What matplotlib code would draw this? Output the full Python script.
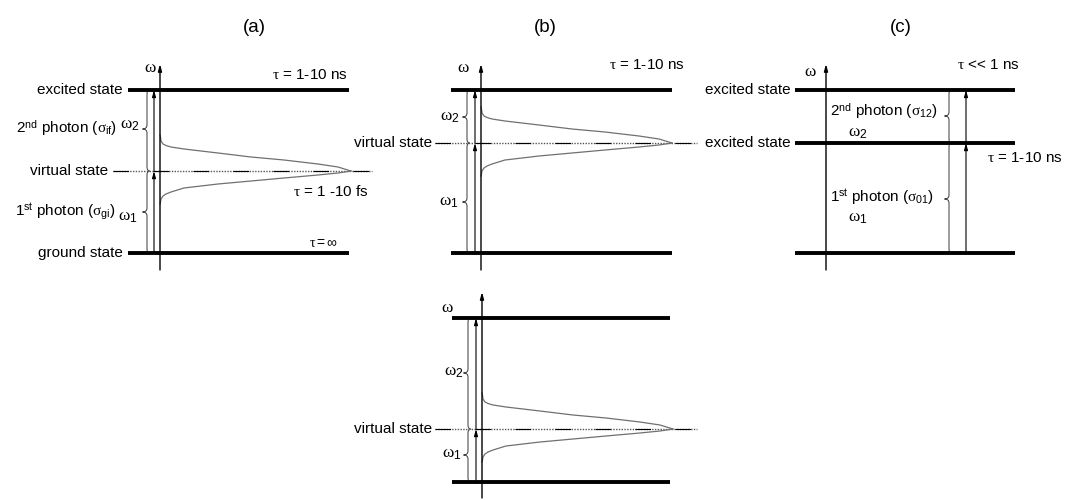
import matplotlib.pyplot as plt
from matplotlib.path import Path
from matplotlib.patches import PathPatch

plt.rcParams['font.family'] = 'Liberation Sans'
plt.rcParams['mathtext.fontset'] = 'custom'
plt.rcParams['mathtext.rm'] = 'Liberation Sans'
plt.rcParams['mathtext.it'] = 'Liberation Serif'
plt.rcParams['mathtext.sf'] = 'Liberation Sans'

# panel titles
titles = ['(a)', '(b)', '(c)']
title_x = [254, 545, 901]

# level heights (sketch pixel units, y down): top, middle, bottom
levels_a = [90, 171, 253]
levels_b = [90, 143, 253]
levels_b2 = [318, 429, 482]
levels_c = [90, 143, 253]

# line shape of the virtual state: offset from the axis vs. distance from the level
prof_x = [0, 0.5, 1, 3, 6, 11, 24, 58, 91, 124, 158, 178, 191]
prof_up = [36, 34, 30, 27, 25.5, 24, 22, 18, 14, 11, 7, 4, 0]
prof_dn = [33, 31, 28, 25, 23, 21, 17, 13, 10, 7, 4, 2, 0]

fig = plt.figure(figsize=(10.67, 5), dpi=100)
ax = fig.add_axes([0, 0, 1, 1])
ax.set_xlim(0, 1067)
ax.set_ylim(500, 0)
ax.axis('off')

FS = 11
FW = 12.5   # omega labels


def level(x0, x1, y):
    ax.plot([x0, x1], [y, y], color='black', lw=2.8, solid_capstyle='butt')


def arrow(x, y_from, y_to, lw=0.8):
    ax.annotate('', xy=(x, y_to), xytext=(x, y_from),
                arrowprops=dict(arrowstyle='-|>,head_length=0.4,head_width=0.11',
                                lw=lw, color='black', shrinkA=0, shrinkB=0,
                                mutation_scale=10))


def brace(x, y0, y1, ym, w=4.5, h=4):
    verts = [(x + w * 0.6, y0), (x, y0), (x, y0 + h),
             (x, ym - h), (x, ym), (x - w, ym),
             (x, ym), (x, ym + h),
             (x, y1 - h), (x, y1), (x + w * 0.6, y1)]
    codes = [Path.MOVETO, Path.CURVE3, Path.CURVE3,
             Path.LINETO, Path.CURVE3, Path.CURVE3,
             Path.CURVE3, Path.CURVE3,
             Path.LINETO, Path.CURVE3, Path.CURVE3]
    ax.add_patch(PathPatch(Path(verts, codes), fill=False, lw=0.75,
                           edgecolor='#444444'))


def virtual_line(x0, x1, y):
    ax.plot([x0, x1], [y, y], color='#555555', lw=1.0, ls=(0, (1, 1)))
    ax.plot([x0, x1], [y, y], color='black', lw=0.8, ls=(0, (14, 22)))


def lineshape(xa, y):
    ax.plot([xa + p for p in prof_x], [y - d for d in prof_up],
            color='#707070', lw=0.9)
    ax.plot([xa + p for p in prof_x], [y + d for d in prof_dn],
            color='#707070', lw=0.9)


def omega_axis(x, y_top, y_bot, lx, ly):
    arrow(x, y_bot, y_top, lw=1.0)
    ax.text(lx, ly, r'$\omega$', fontsize=FW, ha='center', va='center')


for t, tx in zip(titles, title_x):
    ax.text(tx, 28, t, fontsize=13.5, ha='center', va='center')

# (a) two-photon absorption via a virtual state
top, mid, bot = levels_a
level(128, 349, top)
level(128, 349, bot)
virtual_line(113, 372, mid)
lineshape(160, mid)
omega_axis(160, 64, 270, 150, 68)
arrow(154, bot, mid)
arrow(154, mid, top)
brace(147, top, mid, 129)
brace(147, mid, bot, 212)
ax.text(123, top, 'excited state', fontsize=FS, ha='right', va='center')
ax.text(123, bot, 'ground state', fontsize=FS, ha='right', va='center')
ax.text(108, mid, 'virtual state', fontsize=FS, ha='right', va='center')
ax.text(117, 129, r'2$^{\rm nd}$ photon ($\sigma_{\rm if}$)', fontsize=FS,
        ha='right', va='center')
ax.text(120, 125, r'$\omega_{\mathit{2}}$', fontsize=FW, ha='left', va='center')
ax.text(115, 212, r'1$^{\rm st}$ photon ($\sigma_{\rm gi}$)', fontsize=FS,
        ha='right', va='center')
ax.text(118, 217, r'$\omega_{\mathit{1}}$', fontsize=FW, ha='left', va='center')
ax.text(348, 75, r'$\tau$ = 1-10 ns', fontsize=FS, ha='right', va='center')
ax.text(369, 192, r'$\tau$ = 1 -10 fs', fontsize=FS, ha='right', va='center')
ax.text(338, 243, r'$\tau = \infty$', fontsize=FS - 1, ha='right', va='center')

# (b) non-degenerate case, top
top, mid, bot = levels_b
level(451, 672, top)
level(451, 672, bot)
virtual_line(435, 697, mid)
lineshape(481, mid)
omega_axis(481, 64, 270, 463, 68)
arrow(475, bot, mid)
arrow(475, mid, top)
brace(467, top, mid, 117)
brace(467, mid, bot, 202)
ax.text(432, mid, 'virtual state', fontsize=FS, ha='right', va='center')
ax.text(460, 117, r'$\omega_{\mathit{2}}$', fontsize=FW, ha='right', va='center')
ax.text(459, 202, r'$\omega_{\mathit{1}}$', fontsize=FW, ha='right', va='center')
ax.text(685, 65, r'$\tau$ = 1-10 ns', fontsize=FS, ha='right', va='center')

# (b) non-degenerate case, bottom
top, mid, bot = levels_b2
level(452, 670, top)
level(452, 670, bot)
virtual_line(435, 697, mid)
lineshape(482, mid)
omega_axis(482, 292, 498, 447, 308)
arrow(476, bot, mid)
arrow(476, mid, top)
brace(468, top, mid, 373)
brace(468, mid, bot, 455)
ax.text(432, mid, 'virtual state', fontsize=FS, ha='right', va='center')
ax.text(464, 373, r'$\omega_{\mathit{2}}$', fontsize=FW, ha='right', va='center')
ax.text(462, 455, r'$\omega_{\mathit{1}}$', fontsize=FW, ha='right', va='center')

# (c) sequential absorption through a real excited state
top, mid, bot = levels_c
level(795, 1015, top)
level(795, 1015, mid)
level(795, 1015, bot)
omega_axis(826, 64, 270, 810, 72)
arrow(966, bot, mid)
arrow(966, mid, top)
brace(949, top, mid, 116)
brace(949, mid, bot, 199)
ax.text(791, top, 'excited state', fontsize=FS, ha='right', va='center')
ax.text(791, mid, 'excited state', fontsize=FS, ha='right', va='center')
ax.text(830, 112, r'2$^{\rm nd}$ photon ($\sigma_{\rm 12}$)', fontsize=FS,
        ha='left', va='center')
ax.text(848, 133, r'$\omega_{\mathit{2}}$', fontsize=FW, ha='left', va='center')
ax.text(830, 197, r'1$^{\rm st}$ photon ($\sigma_{\rm 01}$)', fontsize=FS,
        ha='left', va='center')
ax.text(848, 218, r'$\omega_{\mathit{1}}$', fontsize=FW, ha='left', va='center')
ax.text(957, 65, r'$\tau$ << 1 ns', fontsize=FS, ha='left', va='center')
ax.text(987, 158, r'$\tau$ = 1-10 ns', fontsize=FS, ha='left', va='center')

fig.savefig('out.png', dpi=100)
